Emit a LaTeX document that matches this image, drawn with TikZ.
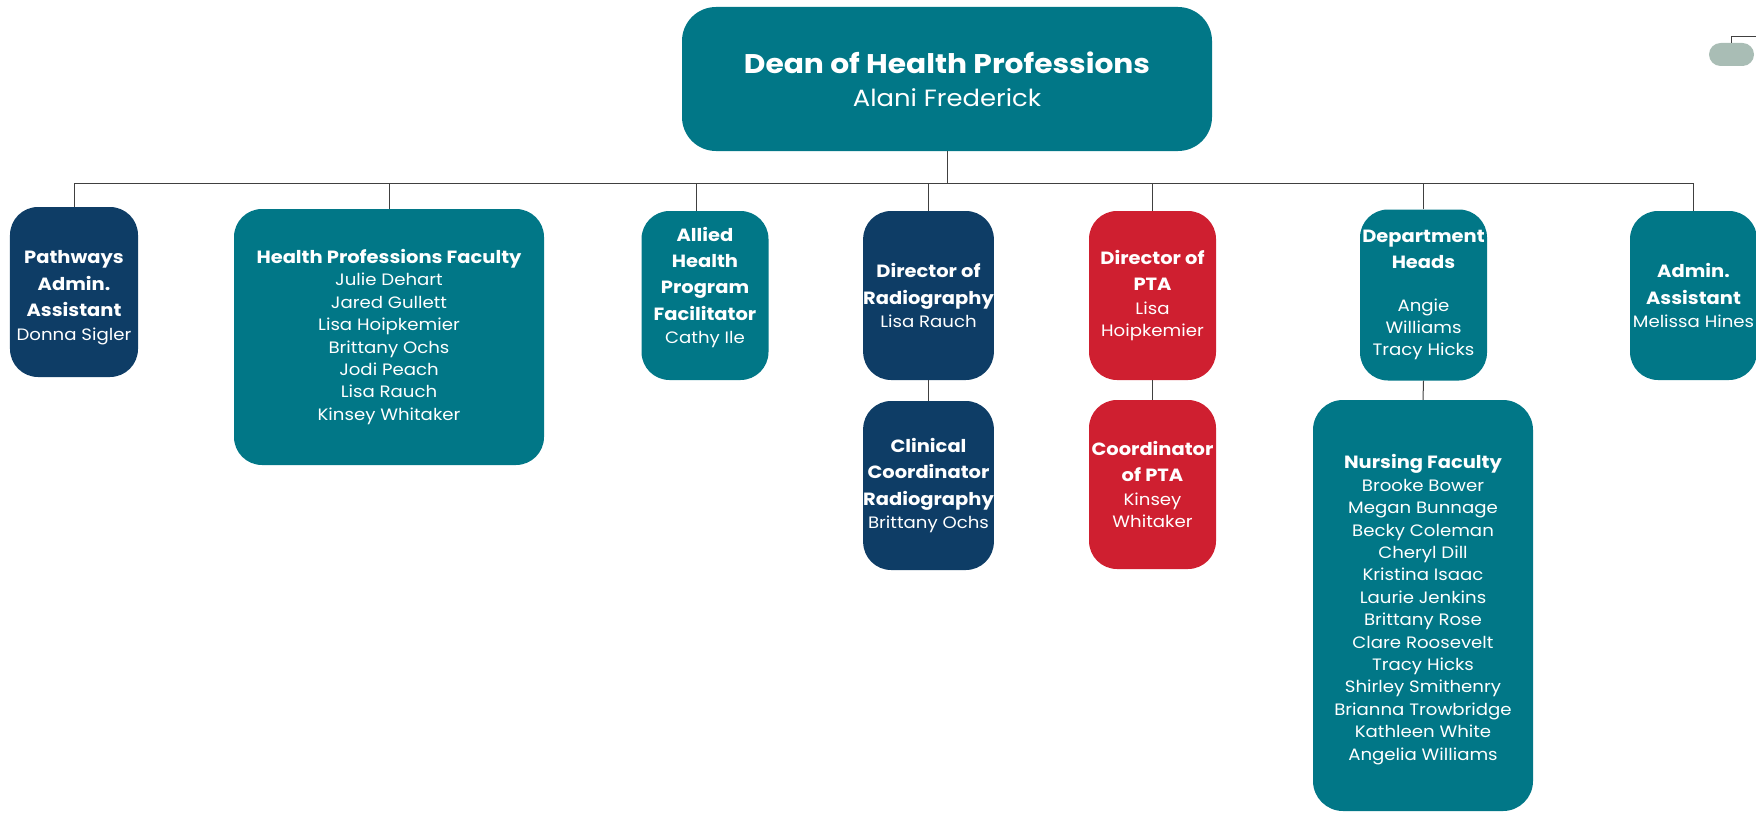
\documentclass[tikz,border=0pt]{standalone}
\usepackage{fontspec}
\setmainfont{Poppins}[FakeStretch=1.10]
\definecolor{cteal}{HTML}{017787}
\definecolor{cnavy}{HTML}{0E3D66}
\definecolor{cred}{HTML}{CF1F30}
\definecolor{cgrey}{HTML}{A9BDB5}
\definecolor{cline}{HTML}{404040}
\newcommand\orgnm{\fontsize{16.5bp}{22.4bp}\selectfont}
\newcommand\orghd[1]{{\bfseries\fontsize{17.7bp}{26bp}\selectfont #1}}
\begin{document}
\begin{tikzpicture}[x=1bp,y=-1bp,
  box/.style={rounded corners=28bp, minimum width=127bp, minimum height=169bp,
    align=center, text=white, inner sep=0pt, font=\orgnm},
  tealbox/.style={box, fill=cteal},
  navybox/.style={box, fill=cnavy},
  redbox/.style={box, fill=cred},
  conn/.style={draw=cline, line width=1bp}]
\useasboundingbox (0,0) rectangle (1756,813);

\node[tealbox, rounded corners=34bp, minimum width=530bp, minimum height=144bp] (dean) at (947,79)
  {{\bfseries\fontsize{27bp}{34bp}\selectfont Dean of Health Professions}\\[11bp]
   {\fontsize{23.5bp}{30bp}\selectfont Alani Frederick}};

\node[navybox, minimum width=128bp, minimum height=170bp] (path) at (74,292)
  {\mbox{}\\[2bp]\orghd{Pathways}\\[4bp]\orghd{Admin.}\\[4bp]\orghd{Assistant}\\[1bp]Donna Sigler};

\node[tealbox, minimum width=310bp, minimum height=256bp] (hpf) at (389,337)
  {\orghd{Health Professions Faculty}\\Julie Dehart\\Jared Gullett\\Lisa Hoipkemier\\Brittany Ochs\\Jodi Peach\\Lisa Rauch\\Kinsey Whitaker};

\node[tealbox] (allied) at (705,295.5)
  {\orghd{Allied}\\[4bp]\orghd{Health}\\[4bp]\orghd{Program}\\[4bp]\orghd{Facilitator}\\[1bp]Cathy Ile\\[-2bp]\mbox{}};

\node[navybox] (dirrad) at (928.5,295.5)
  {\orghd{Director of}\\[4bp]\orghd{Radiography}\\[1bp]Lisa Rauch};

\node[navybox] (clin) at (928.5,485.5)
  {\orghd{Clinical}\\[4bp]\orghd{Coordinator}\\[4bp]\orghd{Radiography}\\[1bp]Brittany Ochs};

\node[redbox] (dirpta) at (1152.5,295.5)
  {\orghd{Director of}\\[4bp]\orghd{PTA}\\[1bp]Lisa\\Hoipkemier};

\node[redbox] (coordpta) at (1152.5,484.5)
  {\orghd{Coordinator}\\[4bp]\orghd{of PTA}\\[1bp]Kinsey\\Whitaker};

\node[tealbox, minimum height=171bp] (dept) at (1423.5,295)
  {\orghd{Department}\\[4bp]\orghd{Heads}\\[20bp]Angie\\Williams\\Tracy Hicks};

\node[tealbox, rounded corners=30bp, minimum width=220bp, minimum height=411bp] (nurs) at (1423,605.5)
  {\mbox{}\\[0bp]\orghd{Nursing Faculty}\\Brooke Bower\\Megan Bunnage\\Becky Coleman\\Cheryl Dill\\Kristina Isaac\\Laurie Jenkins\\Brittany Rose\\Clare Roosevelt\\Tracy Hicks\\Shirley Smithenry\\Brianna Trowbridge\\Kathleen White\\Angelia Williams};

\node[tealbox] (admin) at (1693.5,295.5)
  {\orghd{Admin.}\\[4bp]\orghd{Assistant}\\[1bp]Melissa Hines};

\node[fill=cgrey, rounded corners=11.5bp, minimum width=45bp, minimum height=23bp, inner sep=0pt] (pill) at (1731.5,54.5) {};
\coordinate (offpage) at (1757,37);
\coordinate (bus) at (947,183);

\draw[conn] (dean.south) -- (bus);
\draw[conn] (path.north |- bus) -- (admin.north |- bus);
\draw[conn] (path.north) -- (path.north |- bus);
\draw[conn] (hpf.north) -- (hpf.north |- bus);
\draw[conn] ([xshift=-9bp]allied.north) -- ([xshift=-9bp]allied.north |- bus);
\draw[conn] (dirrad.north) -- (dirrad.north |- bus);
\draw[conn] (dirpta.north) -- (dirpta.north |- bus);
\draw[conn] (dept.north) -- (dept.north |- bus);
\draw[conn] (admin.north) -- (admin.north |- bus);
\draw[conn] (dirrad.south) -- (clin.north);
\draw[conn] (dirpta.south) -- (coordpta.north);
\draw[conn] (dept.south) -- (nurs.north);
\draw[conn] (pill.north) |- (offpage);
\end{tikzpicture}
\end{document}
